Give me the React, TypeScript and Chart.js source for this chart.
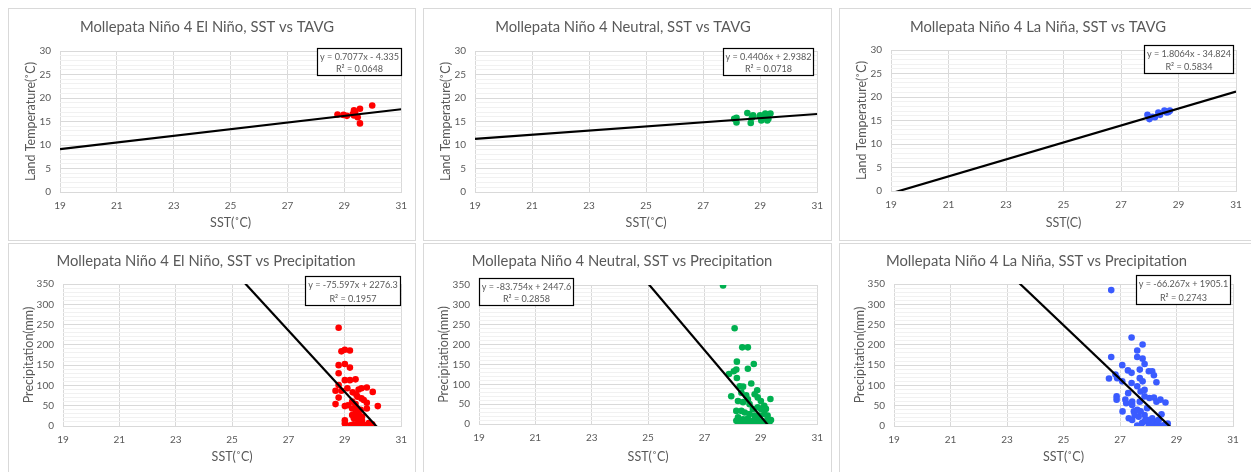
import React, { useEffect, useRef } from "react";
import { Chart, registerables } from "chart.js";

Chart.register(...registerables);

// ---------------- data ----------------
const sstTicks = [19, 21, 23, 25, 27, 29, 31];
const tavgTicks = [0, 5, 10, 15, 20, 25, 30];
const precipTicks = [0, 50, 100, 150, 200, 250, 300, 350];

const elNinoTavgSST = [28.76, 28.97, 29.09, 29.3, 29.34, 29.34, 29.38, 29.47, 29.55, 29.55, 29.98];
const elNinoTavg = [16.5, 16.4, 16.2, 16.6, 17.4, 16.3, 16.9, 15.9, 17.7, 14.6, 18.4];

const neutralTavgSST = [28.09, 28.17, 28.17, 28.55, 28.67, 28.71, 28.75, 28.98, 29.0, 29.04, 29.1, 29.15, 29.18, 29.21, 29.25, 29.29, 29.36];
const neutralTavg = [15.6, 15.8, 14.8, 16.8, 14.7, 15.8, 16.3, 16.1, 16.3, 15.2, 15.8, 16.3, 16.7, 15.8, 15.2, 15.6, 16.7];

const laNinaTavgSST = [27.92, 27.99, 28.1, 28.18, 28.3, 28.36, 28.51, 28.59, 28.65, 28.7];
const laNinaTavg = [16.2, 15.3, 15.8, 15.7, 16.7, 16.2, 17.1, 16.7, 16.8, 17.1];

const elNinoPrecipSST = [28.78, 28.88, 29.0, 29.18, 28.78, 29.0, 29.18, 28.78, 29.0, 29.18, 29.38, 28.78, 28.67, 28.88, 29.09, 28.78, 28.67, 29.0, 29.11, 29.28, 29.41, 29.49, 29.59, 29.78, 29.99, 29.45, 29.59, 29.67, 29.78, 29.78, 30.17, 29.26, 29.38, 29.26, 29.44, 29.56, 29.26, 29.38, 29.5, 29.61, 29.32, 29.47, 29.61, 29.0, 29.0, 29.2, 29.32, 29.44, 29.56, 29.73, 29.85, 29.85, 29.97];
const elNinoPrecip = [242, 184, 188, 186, 150, 153, 144, 130, 113, 113, 115, 101, 87, 87, 93, 70, 54, 49, 51, 83, 77, 90, 93, 95, 84, 72, 68, 64, 57, 43, 49, 60, 54, 43, 43, 40, 27, 31, 27, 23, 19, 15, 13, 14, 6, 2, 4, 2, 4, 2, 2, 7, 4];

const neutralPrecipSST = [27.66, 28.07, 28.34, 28.54, 28.15, 28.13, 28.04, 27.87, 28.15, 28.75, 28.54, 28.66, 28.25, 28.37, 28.87, 27.95, 29.34, 28.31, 28.48, 28.54, 28.78, 28.89, 29.0, 29.12, 28.19, 28.37, 28.6, 28.72, 28.89, 29.0, 29.18, 28.13, 28.31, 28.43, 28.6, 28.78, 28.95, 29.12, 29.24, 28.19, 28.37, 28.54, 28.72, 28.89, 29.07, 29.24, 29.36, 28.13, 28.25, 28.43, 28.6, 28.78, 28.95, 29.13, 29.3];
const neutralPrecip = [349, 241, 193, 193, 157, 137, 133, 126, 116, 151, 139, 102, 95, 94, 85, 70, 63, 79, 72, 62, 75, 67, 58, 46, 58, 55, 50, 38, 42, 38, 38, 33, 33, 29, 25, 21, 21, 25, 21, 17, 12, 14, 8, 8, 6, 12, 10, 8, 3, 3, 2, 2, 2, 2, 3];

const laNinaPrecipSST = [26.69, 26.69, 26.61, 26.84, 26.9, 26.88, 26.88, 27.08, 27.08, 27.09, 27.19, 27.22, 27.28, 27.29, 27.31, 27.41, 27.41, 27.41, 27.43, 27.43, 27.43, 27.49, 27.52, 27.61, 27.61, 27.61, 27.61, 27.61, 27.7, 27.7, 27.7, 27.73, 27.8, 27.8, 27.8, 27.78, 27.87, 27.87, 27.87, 27.87, 27.87, 27.96, 28.02, 28.14, 28.2, 28.29, 28.04, 28.2, 28.29, 28.43, 28.61, 28.47, 28.14, 28.04, 28.25, 28.02, 28.16, 28.32, 28.49, 28.61, 28.69, 27.96, 28.37, 27.66, 27.73];
const laNinaPrecip = [335, 170, 117, 127, 118, 73, 65, 150, 110, 36, 65, 56, 137, 81, 19, 218, 131, 106, 60, 52, 15, 36, 27, 186, 170, 98, 40, 1, 139, 118, 60, 85, 201, 166, 110, 7, 153, 89, 73, 27, 12, 44, 135, 135, 125, 108, 69, 70, 60, 65, 58, 29, 19, 11, 11, 2, 1, 4, 1, 4, 6, 15, 15, 23, 36];

const trendSlopes = [0.7077, 0.4406, 1.8064, -75.597, -83.754, -66.267];
const trendIntercepts = [-4.335, 2.9382, -34.824, 2276.3, 2447.6, 1905.1];
const trendEquations = [
  "y = 0.7077x - 4.335",
  "y = 0.4406x + 2.9382",
  "y = 1.8064x - 34.824",
  "y = -75.597x + 2276.3",
  "y = -83.754x + 2447.6",
  "y = -66.267x + 1905.1",
];
const trendR2 = ["R² = 0.0648", "R² = 0.0718", "R² = 0.5834", "R² = 0.1957", "R² = 0.2858", "R² = 0.2743"];

const chartTitles = [
  "Mollepata Niño 4 El Niño, SST vs TAVG",
  "Mollepata Niño 4 Neutral, SST vs TAVG",
  "Mollepata Niño 4 La Niña, SST vs TAVG",
  "Mollepata Niño 4 El Niño, SST vs Precipitation",
  "Mollepata Niño 4 Neutral, SST vs Precipitation",
  "Mollepata Niño 4 La Niña, SST vs Precipitation",
];
const xTitles = ["SST(˚C)", "SST(˚C)", "SST(C)", "SST(˚C)", "SST(˚C)", "SST(˚C)"];
const yTitles = ["Land Temperature(˚C)", "Land Temperature(˚C)", "Land Temperature(˚C)", "Precipitation(mm)", "Precipitation(mm)", "Precipitation(mm)"];

const seriesX = [elNinoTavgSST, neutralTavgSST, laNinaTavgSST, elNinoPrecipSST, neutralPrecipSST, laNinaPrecipSST];
const seriesY = [elNinoTavg, neutralTavg, laNinaTavg, elNinoPrecip, neutralPrecip, laNinaPrecip];
const seriesColors = ["#ff0000", "#00b050", "#3a5bff", "#ff0000", "#00b050", "#3a5bff"];

// ---------------- styling / layout ----------------
const FONT = "Lato, 'Open Sans', sans-serif";
const TEXT = "#595959";
const GRID_MAJOR = "#d9d9d9";
const GRID_MINOR = "#f1f1f1";

const colLeft = [8, 423, 839];
const colWidth = [408, 409, 413];
const rowTop = [8, 243];
const rowHeight = [233, 232];

// per-panel plot-area geometry in canvas coordinates
const plotLeft = [51, 51, 51, 54, 55, 54];
const plotRight = [396, 398, 396, 394, 396, 393];
const plotTop = [42, 42, 41, 40, 41, 40];
const plotBottom = [183, 183, 182, 182, 180, 182];
const titleCenterY = [18, 18, 18, 17, 17, 17];
const yTitleCenterX = [22, 22, 22, 20, 20, 20];
const xTitleCenterY = [214, 214, 214, 213, 213, 213];

// equation box: anchor, dx, dy relative to plot area corner, width, height
const boxAnchor = ["right", "right", "right", "right", "left", "right"];
const boxDx = [1, -3, -2, 0, 0, -2];
const boxDy = [-3, -3, -5, -8, -7, -9];
const boxW = [85, 91, 90, 96, 95, 95];
const boxH = [28, 28, 29, 30, 28, 30];

const TITLE_SIZE = 14.8;
const AXIS_TITLE_SIZE = 12.5;
const TICK_SIZE = 10;
const EQ_SIZE = 9.1;

const eqBoxPlugin = {
  id: "eqBox",
  afterDatasetsDraw(chart: any, _args: any, opts: any) {
    const { ctx, chartArea } = chart;
    const w = opts.w;
    const h = opts.h;
    const x = Math.round(opts.anchor === "left" ? chartArea.left + opts.dx : chartArea.right + opts.dx - w);
    const y = Math.round(chartArea.top + opts.dy);
    ctx.save();
    ctx.fillStyle = "#ffffff";
    ctx.fillRect(x, y, w, h);
    ctx.strokeStyle = "#000000";
    ctx.lineWidth = 1.2;
    ctx.strokeRect(x + 0.5, y + 0.5, w - 1, h - 1);
    ctx.fillStyle = TEXT;
    ctx.font = `${EQ_SIZE}px ${FONT}`;
    ctx.textAlign = "center";
    ctx.textBaseline = "middle";
    ctx.fillText(opts.line1, x + w / 2, y + 9);
    ctx.fillText(opts.line2, x + w / 2, y + h - 7);
    ctx.restore();
  },
};

function Panel({ i }: { i: number }) {
  const ref = useRef<HTMLCanvasElement>(null);
  const col = i % 3;
  const row = Math.floor(i / 3);
  const outerW = colWidth[col];
  const outerH = rowHeight[row];
  const cw = outerW - 2;
  const ch = outerH - 2;

  useEffect(() => {
    const isTavg = i < 3;
    const majors = isTavg ? tavgTicks : precipTicks;
    const yMax = majors[majors.length - 1];
    const minorStep = isTavg ? 1 : 10;
    const minorValues: number[] = [];
    for (let v = 0; v <= yMax + 1e-9; v += minorStep) minorValues.push(Math.round(v * 100) / 100);

    const a = trendSlopes[i];
    const b = trendIntercepts[i];
    const xMin = sstTicks[0];
    const xMax = sstTicks[sstTicks.length - 1];
    const trend = [
      { x: xMin, y: a * xMin + b },
      { x: xMax, y: a * xMax + b },
    ];
    const points = seriesX[i].map((x, k) => ({ x, y: seriesY[i][k] }));

    const titleLH = TITLE_SIZE * 1.2;
    const titlePadTop = titleCenterY[i] - titleLH / 2;
    const titlePadBottom = plotTop[i] - titlePadTop - titleLH;
    const axLH = AXIS_TITLE_SIZE * 1.2;

    const chart = new Chart(ref.current as HTMLCanvasElement, {
      type: "scatter",
      data: {
        datasets: [
          {
            label: "Linear trend",
            data: trend,
            showLine: true,
            borderColor: "#000000",
            borderWidth: 2.2,
            pointRadius: 0,
            fill: false,
          } as any,
          {
            label: "data",
            data: points,
            backgroundColor: seriesColors[i],
            borderColor: seriesColors[i],
            borderWidth: 0,
            pointRadius: 3.3,
          },
        ],
      },
      options: {
        responsive: false,
        animation: false,
        devicePixelRatio: 1,
        events: [],
        layout: { padding: { left: 0, top: 0, bottom: 0, right: cw - plotRight[i] } },
        plugins: {
          legend: { display: false },
          tooltip: { enabled: false },
          title: {
            display: true,
            text: chartTitles[i],
            color: TEXT,
            font: { family: FONT, size: TITLE_SIZE, weight: "normal" as any },
            padding: { top: titlePadTop, bottom: titlePadBottom },
          },
          eqBox: {
            anchor: boxAnchor[i],
            dx: boxDx[i],
            dy: boxDy[i],
            w: boxW[i],
            h: boxH[i],
            line1: trendEquations[i],
            line2: trendR2[i],
          },
        } as any,
        scales: {
          x: {
            type: "linear",
            min: xMin,
            max: xMax,
            afterBuildTicks: (s: any) => {
              s.ticks = sstTicks.map((v) => ({ value: v }));
            },
            afterFit: (s: any) => {
              s.height = ch - plotBottom[i];
            },
            ticks: {
              autoSkip: false,
              padding: 8,
              color: TEXT,
              font: { family: FONT, size: TICK_SIZE },
              maxRotation: 0,
            },
            grid: { drawTicks: false, color: GRID_MAJOR, lineWidth: 1 },
            border: { display: true, color: GRID_MAJOR },
            title: {
              display: true,
              text: xTitles[i],
              color: TEXT,
              font: { family: FONT, size: AXIS_TITLE_SIZE },
              padding: { top: 0, bottom: ch - xTitleCenterY[i] - axLH / 2 },
            },
          },
          y: {
            type: "linear",
            min: 0,
            max: yMax,
            afterBuildTicks: (s: any) => {
              s.ticks = minorValues.map((v) => ({ value: v }));
            },
            afterFit: (s: any) => {
              s.width = plotLeft[i];
            },
            ticks: {
              autoSkip: false,
              padding: 9,
              color: TEXT,
              font: { family: FONT, size: TICK_SIZE },
              callback: (v: any) => (majors.includes(Number(v)) ? String(v) : ""),
            },
            grid: {
              drawTicks: false,
              lineWidth: 1,
              color: (c: any) => (c.tick && majors.includes(c.tick.value) ? GRID_MAJOR : GRID_MINOR),
            },
            border: { display: false },
            title: {
              display: true,
              text: yTitles[i],
              color: TEXT,
              font: { family: FONT, size: AXIS_TITLE_SIZE },
              padding: { top: yTitleCenterX[i] - axLH / 2, bottom: 0 },
            },
          },
        },
      },
      plugins: [eqBoxPlugin as any],
    });
    return () => chart.destroy();
  }, [i, cw, ch]);

  return (
    <div
      style={{
        position: "absolute",
        left: colLeft[col],
        top: rowTop[row],
        width: outerW,
        height: outerH,
        boxSizing: "border-box",
        border: "1px solid #d9d9d9",
        background: "#ffffff",
      }}
    >
      <canvas ref={ref} width={cw} height={ch} style={{ display: "block", width: cw, height: ch }} />
    </div>
  );
}

export default function App() {
  return (
    <div
      style={{
        position: "fixed",
        left: 0,
        top: 0,
        width: 1251,
        height: 472,
        overflow: "hidden",
        background: "#ffffff",
      }}
    >
      {[0, 1, 2, 3, 4, 5].map((i) => (
        <Panel key={i} i={i} />
      ))}
    </div>
  );
}
